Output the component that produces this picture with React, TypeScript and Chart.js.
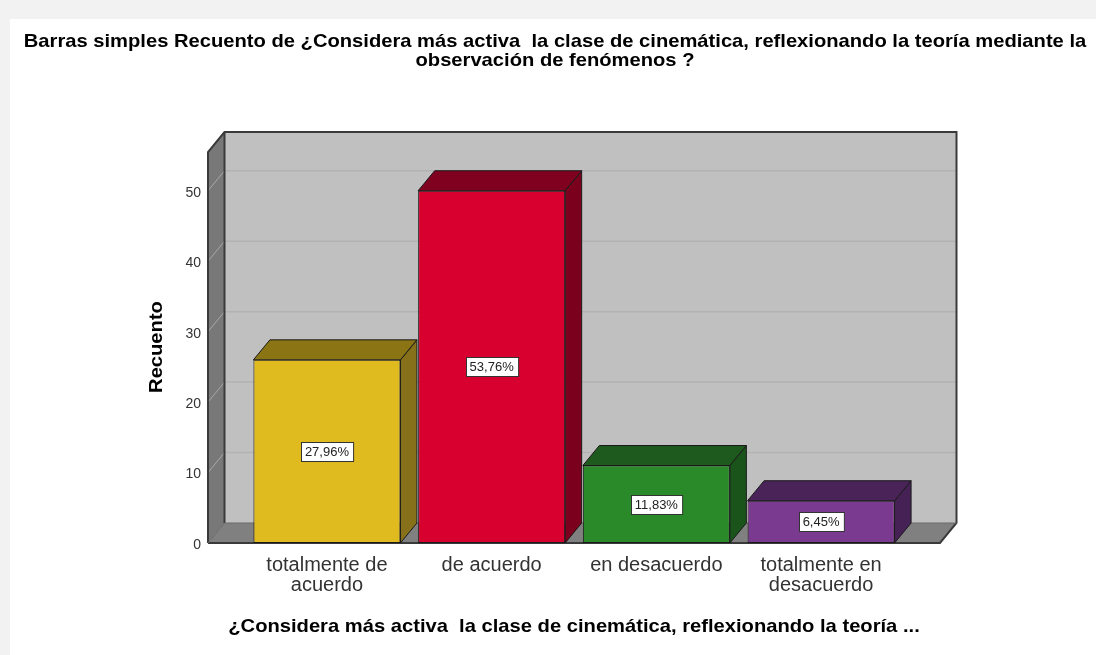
import React, { useEffect, useRef } from "react";
import { Chart, registerables } from "chart.js";

Chart.register(...registerables);

const CATEGORIES: string[][] = [
  ["totalmente de", "acuerdo"],
  ["de acuerdo"],
  ["en desacuerdo"],
  ["totalmente en", "desacuerdo"],
];
const COUNTS: number[] = [26, 50, 11, 6];
const PERCENT_LABELS: string[] = ["27,96%", "53,76%", "11,83%", "6,45%"];
const Y_TICKS: number[] = [0, 10, 20, 30, 40, 50];

const FRONT_COLORS = ["#e0bb20", "#d8002f", "#2a8a2a", "#7a3a8f"];
const TOP_COLORS = ["#8b7414", "#80001f", "#1e5a1e", "#4a2359"];
const SIDE_COLORS = ["#86701a", "#7a001d", "#1b541b", "#462155"];

const TITLE_LINES = [
  "Barras simples Recuento de ¿Considera más activa  la clase de cinemática, reflexionando la teoría mediante la",
  "observación de fenómenos ?",
];
const X_TITLE = "¿Considera más activa  la clase de cinemática, reflexionando la teoría ...";
const Y_TITLE = "Recuento";

const FONT = '"Liberation Sans", Arial, sans-serif';
const DX = 16.5;
const DY = -20;

function wideText(ctx: CanvasRenderingContext2D, txt: string, x: number, y: number, rot = 0) {
  ctx.save();
  ctx.translate(x, y);
  if (rot) ctx.rotate(rot);
  ctx.scale(1.09, 1);
  ctx.fillText(txt, 0, 0);
  ctx.restore();
}

const threeD = {
  id: "threeD",
  beforeDraw(chart: any) {
    const ctx = chart.ctx as CanvasRenderingContext2D;
    const { left, right, top, bottom } = chart.chartArea;
    const y = chart.scales.y;
    ctx.save();
    ctx.fillStyle = "#f2f2f2";
    ctx.fillRect(0, 0, chart.width, chart.height);
    ctx.fillStyle = "#ffffff";
    ctx.fillRect(10, 19, chart.width - 10, chart.height - 19);

    // back wall
    ctx.fillStyle = "#c0c0c0";
    ctx.fillRect(left + DX, top + DY, right - left, bottom - top);
    ctx.strokeStyle = "#b2b2b2";
    ctx.lineWidth = 1.5;
    for (const v of Y_TICKS) {
      if (v === 0) continue;
      const py = y.getPixelForValue(v);
      ctx.beginPath();
      ctx.moveTo(left + DX, py + DY);
      ctx.lineTo(right + DX, py + DY);
      ctx.stroke();
    }
    // left wall
    ctx.fillStyle = "#787878";
    ctx.beginPath();
    ctx.moveTo(left, top);
    ctx.lineTo(left + DX, top + DY);
    ctx.lineTo(left + DX, bottom + DY);
    ctx.lineTo(left, bottom);
    ctx.closePath();
    ctx.fill();
    // floor
    ctx.fillStyle = "#808080";
    ctx.beginPath();
    ctx.moveTo(left, bottom);
    ctx.lineTo(left + DX, bottom + DY);
    ctx.lineTo(right + DX, bottom + DY);
    ctx.lineTo(right, bottom);
    ctx.closePath();
    ctx.fill();
    ctx.strokeStyle = "#a8a8a8";
    ctx.lineWidth = 1;
    for (const v of Y_TICKS) {
      if (v === 0) continue;
      const py = y.getPixelForValue(v);
      ctx.beginPath();
      ctx.moveTo(left, py);
      ctx.lineTo(left + DX, py + DY);
      ctx.stroke();
    }
    ctx.strokeStyle = "#3a3a3a";
    ctx.lineWidth = 2;
    ctx.beginPath();
    ctx.moveTo(left, bottom);
    ctx.lineTo(left, top);
    ctx.lineTo(left + DX, top + DY);
    ctx.lineTo(right + DX, top + DY);
    ctx.lineTo(right + DX, bottom + DY);
    ctx.lineTo(right, bottom);
    ctx.lineTo(left, bottom);
    ctx.moveTo(left + DX, top + DY);
    ctx.lineTo(left + DX, bottom + DY);
    ctx.stroke();
    ctx.strokeStyle = "#6a6a6a";
    ctx.lineWidth = 1;
    ctx.beginPath();
    ctx.moveTo(left + DX, bottom + DY);
    ctx.lineTo(right + DX, bottom + DY);
    ctx.moveTo(left, bottom);
    ctx.lineTo(left + DX, bottom + DY);
    ctx.stroke();
    ctx.restore();
  },
  beforeDatasetsDraw(chart: any) {
    const ctx = chart.ctx as CanvasRenderingContext2D;
    const meta = chart.getDatasetMeta(0);
    ctx.save();
    ctx.strokeStyle = "#1a1a1a";
    ctx.lineWidth = 1;
    ctx.lineJoin = "round";
    meta.data.forEach((el: any, i: number) => {
      const x0 = el.x - el.width / 2;
      const x1 = el.x + el.width / 2;
      const t = el.y;
      const b = el.base;
      ctx.fillStyle = SIDE_COLORS[i];
      ctx.beginPath();
      ctx.moveTo(x1, t);
      ctx.lineTo(x1 + DX, t + DY);
      ctx.lineTo(x1 + DX, b + DY);
      ctx.lineTo(x1, b);
      ctx.closePath();
      ctx.fill();
      ctx.stroke();
      ctx.fillStyle = TOP_COLORS[i];
      ctx.beginPath();
      ctx.moveTo(x0, t);
      ctx.lineTo(x0 + DX, t + DY);
      ctx.lineTo(x1 + DX, t + DY);
      ctx.lineTo(x1, t);
      ctx.closePath();
      ctx.fill();
      ctx.stroke();
    });
    ctx.restore();
  },
  afterDatasetsDraw(chart: any) {
    const ctx = chart.ctx as CanvasRenderingContext2D;
    const meta = chart.getDatasetMeta(0);
    ctx.save();
    ctx.font = `13px ${FONT}`;
    ctx.textAlign = "center";
    ctx.textBaseline = "middle";
    meta.data.forEach((el: any, i: number) => {
      const cy = (el.y + el.base) / 2;
      const txt = PERCENT_LABELS[i];
      const w = ctx.measureText(txt).width + 8;
      const h = 19;
      const bx = Math.round(el.x - w / 2) + 0.5;
      const by = Math.round(cy - h / 2) + 0.5;
      ctx.fillStyle = "#ffffff";
      ctx.fillRect(bx, by, w, h);
      ctx.strokeStyle = "#333333";
      ctx.lineWidth = 1;
      ctx.strokeRect(bx, by, w, h);
      ctx.fillStyle = "#222222";
      ctx.fillText(txt, el.x, cy + 1);
    });
    ctx.restore();
  },
  afterDraw(chart: any) {
    const ctx = chart.ctx as CanvasRenderingContext2D;
    ctx.save();
    ctx.fillStyle = "#000000";
    ctx.textAlign = "center";
    ctx.textBaseline = "middle";
    ctx.font = `bold 18.5px ${FONT}`;
    wideText(ctx, TITLE_LINES[0], 555, 42);
    wideText(ctx, TITLE_LINES[1], 555, 61);
    wideText(ctx, X_TITLE, 574, 627);
    wideText(ctx, Y_TITLE, 157, 347, -Math.PI / 2);
    ctx.restore();
  },
};

export default function App() {
  const ref = useRef<HTMLCanvasElement>(null);
  useEffect(() => {
    if (!ref.current) return;
    const chart = new Chart(ref.current, {
      type: "bar",
      data: {
        datasets: [
          {
            data: COUNTS.map((c, i) => ({ x: i, y: c })),
            backgroundColor: FRONT_COLORS,
            borderColor: "#1a1a1a",
            borderWidth: 1,
            borderSkipped: false,
            barPercentage: 0.8925,
            categoryPercentage: 1,
          } as any,
        ],
      },
      options: {
        animation: false,
        responsive: false,
        layout: { padding: { top: 152, right: 156, bottom: 0, left: 0 } },
        plugins: {
          legend: { display: false },
          title: { display: false },
          tooltip: { enabled: false },
        },
        scales: {
          x: {
            type: "linear",
            offset: false,
            min: -0.722,
            max: 3.722,
            grid: { display: false, drawTicks: false, offset: false },
            border: { display: false },
            afterBuildTicks: (s: any) => {
              s.ticks = CATEGORIES.map((_, i) => ({ value: i }));
            },
            afterFit: (s: any) => {
              s.height = 112;
            },
            ticks: {
              autoSkip: false,
              maxRotation: 0,
              minRotation: 0,
              padding: 12,
              color: "#333333",
              font: { family: FONT, size: 20, lineHeight: 1.0 },
              callback: (v: any) => CATEGORIES[v as number] ?? "",
            },
          },
          y: {
            type: "linear",
            min: 0,
            max: 55.5,
            grid: { display: false, drawTicks: false },
            border: { display: false },
            afterBuildTicks: (s: any) => {
              s.ticks = Y_TICKS.map((v) => ({ value: v }));
            },
            afterFit: (s: any) => {
              s.width = 208;
            },
            ticks: {
              padding: 7,
              labelOffset: 2,
              color: "#333333",
              font: { family: FONT, size: 14 },
            },
          },
        },
      },
      plugins: [threeD],
    });
    return () => chart.destroy();
  }, []);
  return (
    <div style={{ position: "fixed", left: 0, top: 0, width: 1096, height: 655 }}>
      <canvas ref={ref} width={1096} height={655} style={{ display: "block" }} />
    </div>
  );
}
